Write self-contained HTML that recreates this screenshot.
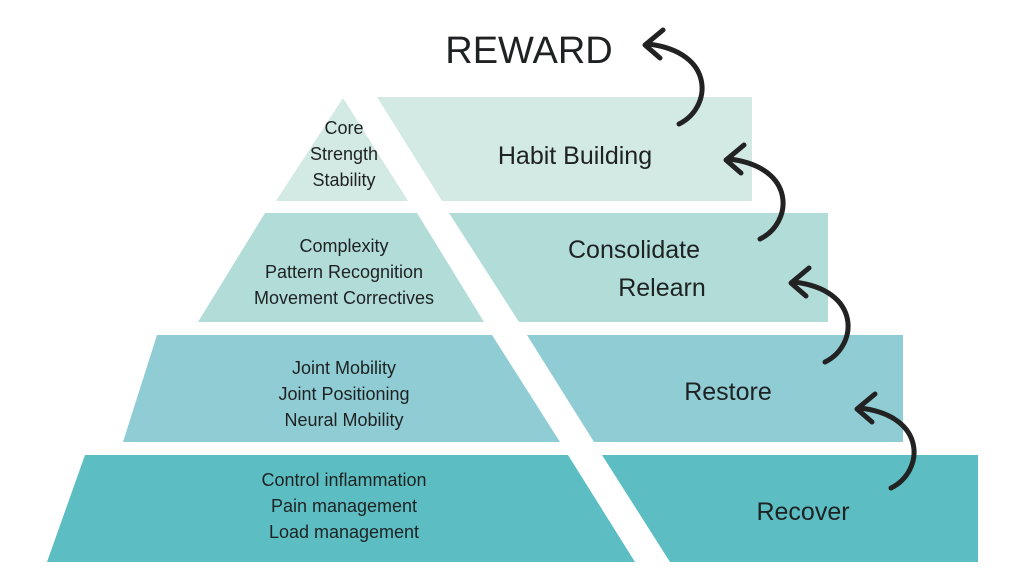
<!DOCTYPE html>
<html><head><meta charset="utf-8"><style>
html,body{margin:0;padding:0;background:#fff;}
svg{display:block;}
text{font-family:"Liberation Sans",sans-serif;fill:#1e2222;}
</style></head><body>
<svg width="1024" height="577" viewBox="0 0 1024 577" xmlns="http://www.w3.org/2000/svg">
<!-- tier 1 -->
<polygon points="343,98 408,201 276,201" fill="#d3e9e4"/>
<polygon points="377,97 752,97 752,201 442,201" fill="#d3e9e4"/>
<!-- tier 2 -->
<polygon points="265,213 417,213 484,322 198,322" fill="#b1dcd8"/>
<polygon points="449,213 828,213 828,322 519,322" fill="#b1dcd8"/>
<!-- tier 3 -->
<polygon points="157,335 492,335 560,442 123,442" fill="#90ccd4"/>
<polygon points="527,335 903,335 903,442 594,442" fill="#90ccd4"/>
<!-- tier 4 -->
<polygon points="85,455 568,455 635,562 47,562" fill="#5cbec3"/>
<polygon points="602,455 978,455 978,562 670,562" fill="#5cbec3"/>

<g font-size="18" text-anchor="middle">
<text x="344" y="134">Core</text>
<text x="344" y="160">Strength</text>
<text x="344" y="186">Stability</text>
<text x="344" y="252">Complexity</text>
<text x="344" y="278">Pattern Recognition</text>
<text x="344" y="304">Movement Correctives</text>
<text x="344" y="374">Joint Mobility</text>
<text x="344" y="400">Joint Positioning</text>
<text x="344" y="426">Neural Mobility</text>
<text x="344" y="486">Control inflammation</text>
<text x="344" y="512">Pain management</text>
<text x="344" y="538">Load management</text>
</g>
<g font-size="25" text-anchor="middle">
<text x="575" y="164">Habit Building</text>
<text x="634" y="258">Consolidate</text>
<text x="662" y="296">Relearn</text>
<text x="728" y="400">Restore</text>
<text x="803" y="520">Recover</text>
</g>
<text x="529" y="63" font-size="38" text-anchor="middle">REWARD</text>

<g fill="none" stroke="#222" stroke-width="5" stroke-linecap="round" stroke-linejoin="round">
<g>
<path d="M679,124 C712,108 716,52 648,44"/>
<path d="M663,30 L645,45 L660,58"/>
</g>
<g transform="translate(81,115)">
<path d="M679,124 C712,108 716,52 648,44"/>
<path d="M663,30 L645,45 L660,58"/>
</g>
<g transform="translate(146,238)">
<path d="M679,124 C712,108 716,52 648,44"/>
<path d="M663,30 L645,45 L660,58"/>
</g>
<g transform="translate(212,364)">
<path d="M679,124 C712,108 716,52 648,44"/>
<path d="M663,30 L645,45 L660,58"/>
</g>
</g>
</svg>
</body></html>
